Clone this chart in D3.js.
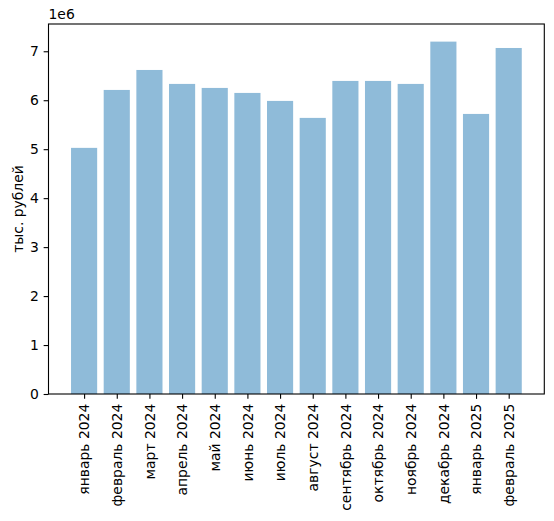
<!DOCTYPE html>
<html>
<head>
<meta charset="utf-8">
<script src="https://cdn.jsdelivr.net/npm/d3@7"></script>
<style>
    body { margin: 0; background: #fff; }
    text { font-family: 'DejaVu Sans', sans-serif; fill: #000; }
</style>
</head>
<body>
<div class="bar-chart-container"></div>
<script>
// Data
const months = [
    'январь 2024', 'февраль 2024', 'март 2024', 'апрель 2024', 'май 2024',
    'июнь 2024', 'июль 2024', 'август 2024', 'сентябрь 2024', 'октябрь 2024',
    'ноябрь 2024', 'декабрь 2024', 'январь 2025', 'февраль 2025'
];
const revenue = [
    5027000, 6210000, 6618000, 6333000, 6251000,
    6149000, 5986000, 5639000, 6394000, 6394000,
    6333000, 7197000, 5720000, 7067000
];
const yTicks = [0, 1, 2, 3, 4, 5, 6, 7];
const yLabel = 'тыс. рублей';
const offsetLabel = '1e6';

// Margin convention
const margin = {top: 24, right: 9.7, bottom: 127, left: 48.5};
const width = 554 - margin.left - margin.right;
const height = 521 - margin.top - margin.bottom;
const fontSize = 13.9;
const tick = 4.86;

// Scales (matplotlib: bar width 0.8, 5% margins)
const idx = months.map((d, i) => i);
const xMin = -0.4, xMax = months.length - 1 + 0.4;
const pad = (xMax - xMin) * 0.05;
const xScale = d3.scaleLinear()
    .domain([xMin - pad, xMax + pad])
    .range([0, width]);

const yScale = d3.scaleLinear()
    .domain([0, d3.max(revenue) * 1.05])
    .range([height, 0]);

// Draw base
const svg = d3.select('.bar-chart-container')
    .append('svg')
    .attr('width', 554)
    .attr('height', 521)
    .append('g')
    .attr('transform', `translate(${margin.left}, ${margin.top})`);

// Draw bars
svg.append('g')
    .selectAll('rect')
    .data(revenue)
    .enter()
    .append('rect')
    .attr('x', (d, i) => xScale(i - 0.4))
    .attr('width', (d, i) => xScale(i + 0.4) - xScale(i - 0.4))
    .attr('y', d => yScale(d))
    .attr('height', d => yScale(0) - yScale(d))
    .style('fill', '#1f77b4')
    .style('fill-opacity', 0.5);

// Draw axes
const xAxis = d3.axisBottom(xScale)
    .tickValues(idx)
    .tickFormat(i => months[i])
    .tickSizeInner(tick)
    .tickSizeOuter(0)
    .tickPadding(tick);

const xAxisDraw = svg.append('g')
    .attr('transform', `translate(0, ${height})`)
    .call(xAxis);
xAxisDraw.select('.domain').remove();
xAxisDraw.selectAll('line').attr('stroke', '#000').attr('stroke-width', 1.1);
xAxisDraw.selectAll('text')
    .attr('y', 0)
    .attr('dy', '0.35em')
    .attr('transform', `translate(0, ${tick * 2}) rotate(-90)`)
    .style('text-anchor', 'end')
    .style('font-size', `${fontSize}px`)
    .style('font-family', 'DejaVu Sans');

const yAxis = d3.axisLeft(yScale)
    .tickValues(yTicks.map(d => d * 1e6))
    .tickFormat(d => d / 1e6)
    .tickSizeInner(tick)
    .tickSizeOuter(0)
    .tickPadding(tick);

const yAxisDraw = svg.append('g').call(yAxis);
yAxisDraw.select('.domain').remove();
yAxisDraw.selectAll('line').attr('stroke', '#000').attr('stroke-width', 1.1);
yAxisDraw.selectAll('text')
    .style('font-size', `${fontSize}px`)
    .style('font-family', 'DejaVu Sans');

// Frame
svg.append('rect')
    .attr('width', width)
    .attr('height', height)
    .style('fill', 'none')
    .style('stroke', '#000')
    .style('stroke-width', 1.1);

// Labels
svg.append('text')
    .attr('transform', `translate(${-margin.left + 18}, ${height / 2}) rotate(-90)`)
    .attr('dy', '0.35em')
    .style('text-anchor', 'middle')
    .style('font-size', `${fontSize}px`)
    .text(yLabel);

svg.append('text')
    .attr('x', 0)
    .attr('y', -5)
    .style('font-size', `${fontSize}px`)
    .text(offsetLabel);
</script>
</body>
</html>
